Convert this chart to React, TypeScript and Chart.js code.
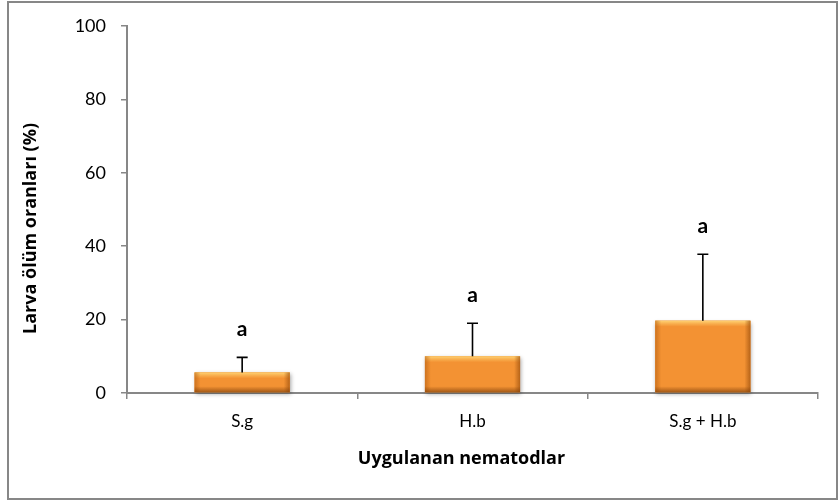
import React, { useEffect, useRef } from "react";
import { Chart, registerables } from "chart.js";

Chart.register(...registerables);

const categories = ["S.g", "H.b", "S.g + H.b"];
const means = [5.6, 10, 19.7];
const errors = [4.1, 9, 18.1];
const letters = ["a", "a", "a"];
const yTickValues = [0, 20, 40, 60, 80, 100];
const xTitle = "Uygulanan nematodlar";
const yTitle = "Larva ölüm oranları (%)";

const FONT = "Lato, 'Open Sans', sans-serif";
const TITLE_FONT = "'Open Sans', Lato, sans-serif";
const AXIS_GREY = "#878787";

const decorPlugin = {
  id: "decor",
  beforeDraw(chart: any) {
    const ctx = chart.ctx;
    ctx.save();
    ctx.fillStyle = "#ffffff";
    ctx.fillRect(0, 0, chart.width, chart.height);
    ctx.strokeStyle = AXIS_GREY;
    ctx.lineWidth = 2;
    ctx.strokeRect(8, 2, chart.width - 9, chart.height - 3);
    ctx.restore();
  },
  beforeDatasetsDraw(chart: any) {
    const ctx = chart.ctx;
    const meta = chart.getDatasetMeta(0);
    ctx.save();
    meta.data.forEach((bar: any) => {
      const { x, y, base, width } = bar.getProps(["x", "y", "base", "width"], true);
      ctx.shadowColor = "rgba(0,0,0,0.35)";
      ctx.shadowBlur = 4;
      ctx.shadowOffsetX = 1;
      ctx.shadowOffsetY = 2;
      ctx.fillStyle = "#E8862C";
      ctx.fillRect(x - width / 2, y, width, base - y);
    });
    ctx.restore();
  },
  afterDatasetsDraw(chart: any) {
    const ctx = chart.ctx;
    const meta = chart.getDatasetMeta(0);
    const yScale = chart.scales.y;
    const area = chart.chartArea;
    ctx.save();
    meta.data.forEach((bar: any, i: number) => {
      const { x, y, base, width } = bar.getProps(["x", "y", "base", "width"], true);
      const l = x - width / 2;
      const r = x + width / 2;
      const h = base - y;
      const bw = Math.min(6, h / 2);
      let g = ctx.createLinearGradient(0, y, 0, y + bw);
      g.addColorStop(0, "rgba(255,214,120,0.95)");
      g.addColorStop(1, "rgba(255,200,100,0)");
      ctx.fillStyle = g;
      ctx.fillRect(l, y, width, bw);
      g = ctx.createLinearGradient(l, 0, l + 6, 0);
      g.addColorStop(0, "rgba(175,90,15,0.55)");
      g.addColorStop(1, "rgba(175,90,15,0)");
      ctx.fillStyle = g;
      ctx.fillRect(l, y, 6, h);
      g = ctx.createLinearGradient(r, 0, r - 6, 0);
      g.addColorStop(0, "rgba(150,75,10,0.65)");
      g.addColorStop(1, "rgba(150,75,10,0)");
      ctx.fillStyle = g;
      ctx.fillRect(r - 6, y, 6, h);
      g = ctx.createLinearGradient(0, base, 0, base - bw);
      g.addColorStop(0, "rgba(130,65,10,0.7)");
      g.addColorStop(1, "rgba(130,65,10,0)");
      ctx.fillStyle = g;
      ctx.fillRect(l, base - bw, width, bw);

      const capY = yScale.getPixelForValue(means[i] + errors[i]);
      ctx.strokeStyle = "#000";
      ctx.lineWidth = 1.6;
      ctx.beginPath();
      ctx.moveTo(x, y);
      ctx.lineTo(x, capY);
      ctx.moveTo(x - 5.5, capY);
      ctx.lineTo(x + 5.5, capY);
      ctx.stroke();

      ctx.fillStyle = "#000";
      ctx.font = `bold 21px ${FONT}`;
      ctx.textAlign = "center";
      ctx.textBaseline = "alphabetic";
      ctx.fillText(letters[i], x, capY - 21);
    });

    ctx.fillStyle = "#000";
    ctx.font = `bold 18px ${TITLE_FONT}`;
    ctx.textAlign = "center";
    ctx.textBaseline = "middle";
    ctx.fillText(xTitle, (area.left + area.right) / 2 - 11, 459);
    ctx.save();
    ctx.translate(31, (area.top + area.bottom) / 2 + 19);
    ctx.rotate(-Math.PI / 2);
    ctx.fillText(yTitle, 0, 0);
    ctx.restore();
    ctx.restore();
  },
};

export default function App() {
  const canvasRef = useRef<HTMLCanvasElement | null>(null);

  useEffect(() => {
    if (!canvasRef.current) return;
    const chart = new Chart(canvasRef.current, {
      type: "bar",
      data: {
        labels: categories,
        datasets: [
          {
            data: means,
            backgroundColor: "#F39233",
            borderWidth: 0,
            categoryPercentage: 1,
            barPercentage: 0.413,
          },
        ],
      },
      options: {
        responsive: false,
        animation: false,
        devicePixelRatio: 1,
        layout: { padding: { left: 0, right: 20, top: 26, bottom: 0 } },
        plugins: {
          legend: { display: false },
          tooltip: { enabled: false },
        },
        scales: {
          x: {
            grid: {
              display: true,
              drawOnChartArea: false,
              drawTicks: true,
              tickLength: 6,
              color: AXIS_GREY,
              lineWidth: 1.5,
              offset: true,
            },
            border: { display: true, color: AXIS_GREY, width: 2 },
            ticks: {
              font: { family: FONT, size: 17 },
              color: "#000",
              padding: 12,
            },
            afterFit: (s: any) => {
              s.height = 107;
            },
          },
          y: {
            min: 0,
            max: 100,
            afterBuildTicks: (s: any) => {
              s.ticks = yTickValues.map((v) => ({ value: v }));
            },
            grid: {
              display: true,
              drawOnChartArea: false,
              drawTicks: true,
              tickLength: 6,
              color: AXIS_GREY,
              lineWidth: 1.5,
            },
            border: { display: true, color: AXIS_GREY, width: 2 },
            ticks: {
              font: { family: FONT, size: 18 },
              color: "#000",
              padding: 15,
            },
            afterFit: (s: any) => {
              s.width = 127;
            },
          },
        },
      },
      plugins: [decorPlugin],
    });
    return () => chart.destroy();
  }, []);

  return (
    <div style={{ position: "absolute", left: 0, top: 0, width: 838, height: 500, background: "#fff" }}>
      <canvas ref={canvasRef} width={838} height={500} style={{ display: "block", width: 838, height: 500 }} />
    </div>
  );
}
